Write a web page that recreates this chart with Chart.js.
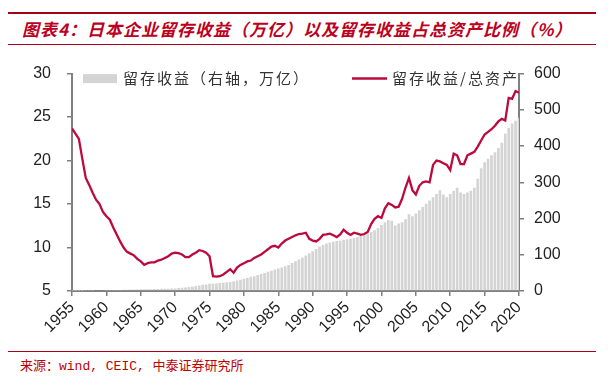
<!DOCTYPE html>
<html>
<head>
<meta charset="utf-8">
<script src="https://cdn.jsdelivr.net/npm/chart.js@4.4.1/dist/chart.umd.min.js"></script>
<style>
  html, body { margin: 0; padding: 0; background: #fff; }
  body { width: 608px; height: 385px; position: relative; overflow: hidden; font-family: "Noto Sans CJK SC", sans-serif; }
  .title { position: absolute; left: 8px; top: 12px; width: 588px; height: 30px; border-top: 2px solid #a8001c; border-bottom: 1.5px solid #a8001c; }
  .title span { position: absolute; left: 14px; top: 3px; font-size: 17px; line-height: 24px; font-weight: bold; font-style: italic; color: #bc0020; letter-spacing: 1px; white-space: nowrap; }
  .chart-box { position: absolute; left: 0; top: 48px; width: 608px; height: 300px; }
  .source { position: absolute; left: 8px; top: 351px; width: 588px; border-top: 1.5px solid #a8001c; }
  .source span { position: absolute; left: 12px; top: 6px; font-size: 13px; line-height: 18px; color: #c00000; font-family: "Liberation Mono", "Noto Sans CJK SC", monospace; white-space: nowrap; }
</style>
</head>
<body>
<div class="title"><span>图表4：日本企业留存收益（万亿）以及留存收益占总资产比例（%）</span></div>
<div class="chart-box"><canvas id="retainedChart"></canvas></div>
<div class="source"><span>来源：wind, CEIC, 中泰证券研究所</span></div>
<script>
// half-year positions, 1955.0 ... 2020.0
var years = [];
for (var y = 1955; y <= 2020; y += 0.5) years.push(y);

var xTicks = [1955, 1960, 1965, 1970, 1975, 1980, 1985, 1990, 1995, 2000, 2005, 2010, 2015, 2020];

// 留存收益/总资产 (%), left axis
var ratio = [
  23.7, 23.1, 22.5, 20.2, 18.0, 17.2, 16.3, 15.5, 15.0, 14.1,
  13.6, 13.2, 12.3, 11.5, 10.7, 10.0, 9.5, 9.3, 9.1, 8.7,
  8.4, 8.0, 8.2, 8.3, 8.3, 8.5, 8.6, 8.8, 9.0, 9.3,
  9.4, 9.35, 9.2, 8.9, 8.9, 9.2, 9.4, 9.7, 9.6, 9.4,
  9.0, 6.7, 6.65, 6.7, 6.9, 7.2, 7.5, 7.1, 7.7, 8.0,
  8.2, 8.4, 8.5, 8.8, 9.0, 9.2, 9.5, 9.8, 10.1, 10.2,
  10.0, 10.45, 10.8, 11.0, 11.2, 11.4, 11.55, 11.6, 11.7, 11.0,
  10.8, 10.7, 11.0, 11.45, 11.5, 11.6, 11.4, 11.2, 11.5, 12.05,
  11.7, 11.45, 11.7, 11.6, 11.45, 11.55, 11.8, 12.7, 13.3, 13.6,
  13.4, 14.5, 15.1, 14.9, 14.6, 14.7, 15.6, 16.9, 18.0, 16.6,
  16.1, 17.1, 17.5, 17.6, 17.5, 19.5, 20.0, 19.9, 19.7, 19.5,
  18.9, 20.8, 20.6, 19.6, 19.6, 20.6, 20.8, 21.0, 21.6, 22.3,
  23.0, 23.3, 23.6, 24.0, 24.5, 24.8, 24.6, 27.2, 27.1, 28.0,
  27.8
];

// 留存收益 (万亿), right axis
var earnings = [
  1, 1, 1, 1, 1.5, 1.5, 1.5, 2, 2, 2,
  2.5, 2.5, 3, 3, 3, 3.5, 3.5, 4, 4, 4,
  4.5, 4.5, 5, 5, 5.5, 5.5, 6, 6, 6.5, 7,
  7, 8, 9, 10, 11, 12, 14, 15, 17, 18,
  20, 20, 21, 22, 23, 24, 25, 27, 29, 31,
  34, 36, 39, 41, 44, 47, 50, 53, 56, 59,
  62, 65, 68, 72, 77, 82, 87, 92, 98, 104,
  110, 116, 122, 127, 131, 134, 136, 138, 139, 141,
  143, 144, 146, 149, 152, 155, 159, 163, 168, 174,
  182, 190, 196, 194, 181, 186, 190, 198, 212, 206,
  214, 223, 232, 241, 250, 259, 268, 278, 266, 259,
  268, 276, 285, 272, 268, 272, 277, 285, 310, 339,
  355, 365, 375, 383, 395, 409, 435, 450, 462, 470,
  478
];

var lineColor = '#bc0a3c';
var barColor = '#d4d4d4';
var axisColor = '#808080';

// legend drawn inside the plot, like the original
var topLegend = {
  id: 'topLegend',
  afterDatasetsDraw: function(chart) {
    var ctx = chart.ctx, area = chart.chartArea;
    var bars = chart.data.datasets[1], line = chart.data.datasets[0];
    var cy = area.top + 5;
    ctx.save();
    ctx.font = '15px "Noto Sans CJK SC"';
    if ('letterSpacing' in ctx) ctx.letterSpacing = '2px';
    ctx.textBaseline = 'middle';
    ctx.fillStyle = bars.backgroundColor;
    ctx.fillRect(area.left + 11, cy - 4.5, 34, 9);
    ctx.fillStyle = '#333';
    ctx.fillText(bars.label, area.left + 51, cy);
    ctx.strokeStyle = line.borderColor;
    ctx.lineWidth = 2.5;
    ctx.beginPath();
    ctx.moveTo(area.left + 280, cy);
    ctx.lineTo(area.left + 315, cy);
    ctx.stroke();
    ctx.fillStyle = '#333';
    ctx.fillText(line.label, area.left + 320, cy);
    ctx.restore();
  }
};

var ctx = document.getElementById('retainedChart');
var chart = new Chart(ctx, {
  type: 'bar',
  data: {
    datasets: [
      {
        type: 'line',
        label: '留存收益/总资产',
        data: years.map(function(x, i) { return { x: x, y: ratio[i] }; }),
        yAxisID: 'y',
        borderColor: lineColor,
        borderWidth: 2.3,
        pointRadius: 0,
        tension: 0,
        order: 0
      },
      {
        type: 'bar',
        label: '留存收益（右轴，万亿）',
        data: years.map(function(x, i) { return { x: x, y: earnings[i] }; }),
        yAxisID: 'y1',
        backgroundColor: barColor,
        barPercentage: 0.78,
        categoryPercentage: 1,
        order: 1
      }
    ]
  },
  options: {
    responsive: true,
    maintainAspectRatio: false,
    animation: false,
    layout: { padding: { top: 17, left: 0, right: 0, bottom: 0 } },
    plugins: {
      legend: { display: false },
      tooltip: { enabled: false }
    },
    scales: {
      x: {
        type: 'linear',
        min: 1955,
        max: 2020,
        offset: false,
        afterBuildTicks: function(scale) {
          scale.ticks = xTicks.map(function(v) { return { value: v }; });
        },
        afterFit: function(scale) { scale.height = 57; },
        ticks: {
          autoSkip: false,
          minRotation: 45,
          maxRotation: 45,
          padding: 2,
          color: '#222',
          font: { family: '"Liberation Sans", Arial', size: 16 },
          callback: function(v) { return String(v); }
        },
        grid: { offset: false, drawOnChartArea: false, drawTicks: true, tickLength: 5, color: axisColor, lineWidth: 1.5 },
        border: { color: axisColor, width: 2 }
      },
      y: {
        position: 'left',
        min: 5,
        max: 30,
        afterFit: function(scale) { scale.width = 72; },
        ticks: {
          stepSize: 5,
          padding: 16,
          color: '#222',
          font: { family: '"Liberation Sans", Arial', size: 16 }
        },
        grid: { drawOnChartArea: false, drawTicks: true, tickLength: 5, color: axisColor, lineWidth: 1.5 },
        border: { color: axisColor, width: 2 }
      },
      y1: {
        position: 'right',
        min: 0,
        max: 600,
        afterFit: function(scale) { scale.width = 89; },
        ticks: {
          stepSize: 100,
          padding: 10,
          color: '#222',
          font: { family: '"Liberation Sans", Arial', size: 16 }
        },
        grid: { drawOnChartArea: false, drawTicks: true, tickLength: 5, color: axisColor, lineWidth: 1.5 },
        border: { color: axisColor, width: 2 }
      }
    }
  },
  plugins: [topLegend]
});
</script>
</body>
</html>
